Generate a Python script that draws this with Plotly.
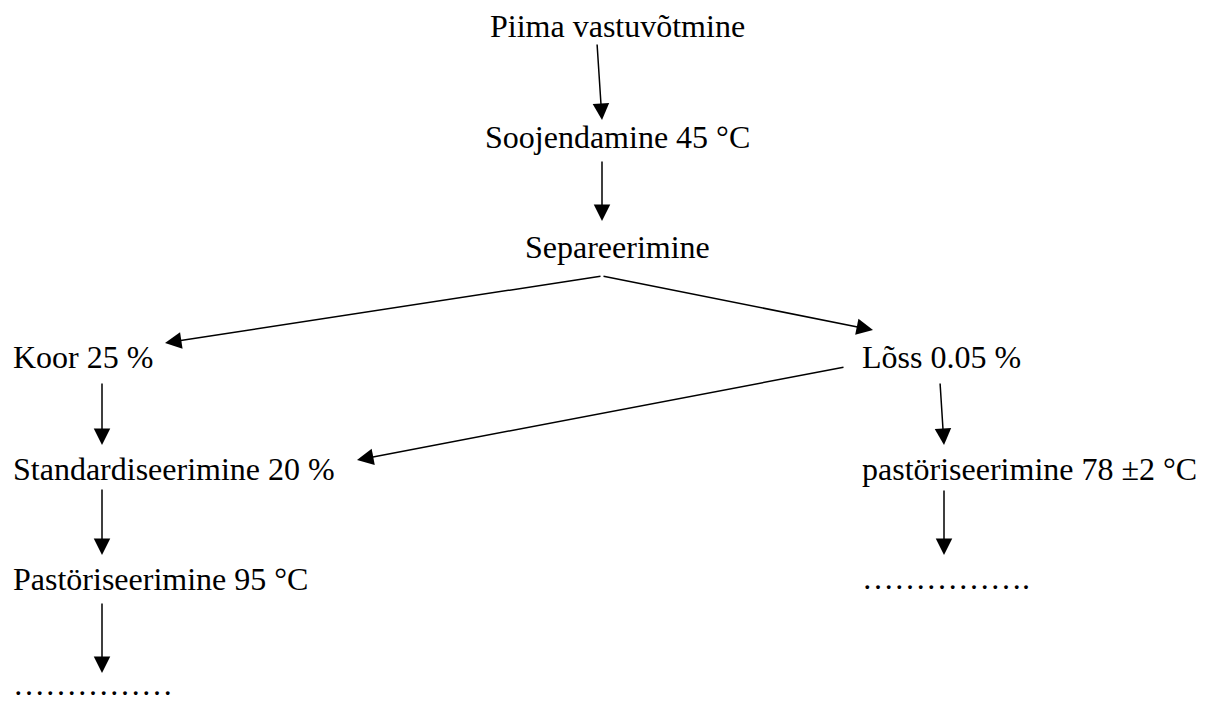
import plotly.graph_objects as go

# Flowchart content
labels = [
    "Piima vastuvõtmine",
    "Soojendamine 45 °C",
    "Separeerimine",
    "Koor 25 %",
    "Lõss 0.05 %",
    "Standardiseerimine 20 %",
    "pastöriseerimine 78 ±2 °C",
    "Pastöriseerimine 95 °C",
    "……………",
    "…………….",
]
label_x = [617, 617, 617, 12, 861, 12, 861, 12, 12, 861]
label_y = [26, 137, 247, 357, 357, 469, 469, 579, 684, 578]
label_anchor = ["center", "center", "center", "left", "left", "left", "left", "left", "left", "left"]

# Arrows (tail -> head)
arrow_x0 = [597, 602, 602, 602, 102, 845, 940, 102, 944, 102]
arrow_y0 = [43, 160, 276, 276, 382, 367, 382, 488, 489, 602]
arrow_x1 = [602, 602, 165, 873, 102, 357, 944, 102, 944, 102]
arrow_y1 = [120, 221, 343, 330, 445, 460, 445, 555, 555, 673]

W, H = 1208, 702
FONT = "Liberation Serif, Times New Roman, Times, DejaVu Serif, serif"
fig = go.Figure()
fig.add_trace(go.Scatter(x=[0, W], y=[0, H], mode="markers",
                         marker=dict(opacity=0), hoverinfo="skip", showlegend=False))

for t, x, y, a in zip(labels, label_x, label_y, label_anchor):
    fig.add_annotation(x=x, y=y, xref="x", yref="y", text=t, showarrow=False,
                       xanchor=a, yanchor="middle", borderpad=0,
                       font=dict(family=FONT, size=32, color="black"))

for x0, y0, x1, y1 in zip(arrow_x0, arrow_y0, arrow_x1, arrow_y1):
    fig.add_annotation(x=x1, y=y1, ax=x0, ay=y0, xref="x", yref="y", axref="x", ayref="y",
                       text="", showarrow=True, arrowhead=2, arrowsize=2.2, arrowwidth=1.5,
                       arrowcolor="black", standoff=0, startstandoff=0)

fig.update_layout(
    width=W, height=H, margin=dict(l=0, r=0, t=0, b=0),
    paper_bgcolor="white", plot_bgcolor="white",
    xaxis=dict(range=[0, W], visible=False, fixedrange=True),
    yaxis=dict(range=[H, 0], visible=False, fixedrange=True),
    showlegend=False,
    font=dict(family=FONT),
)
fig.write_html("out.html", config={"displayModeBar": False},
               post_script="document.body.style.margin='0';document.body.style.overflow='hidden';")
